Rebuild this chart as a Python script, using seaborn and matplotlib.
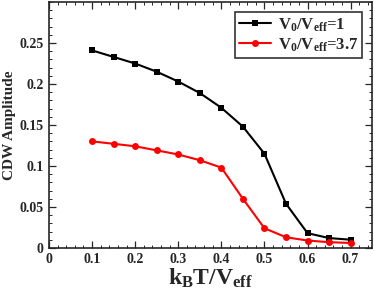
import matplotlib
matplotlib.use("Agg")
import matplotlib.pyplot as plt
import seaborn as sns
import numpy as np
import pandas as pd
from matplotlib.ticker import MultipleLocator

sns.set_style("ticks")
plt.rcParams['font.family'] = ['Liberation Serif', 'DejaVu Serif']
plt.rcParams['font.weight'] = 'bold'
plt.rcParams['mathtext.fontset'] = 'custom'
plt.rcParams['mathtext.rm'] = 'Liberation Serif:bold'
plt.rcParams['mathtext.bf'] = 'Liberation Serif:bold'

# data
temperature = [0.1, 0.15, 0.2, 0.25, 0.3, 0.35, 0.4, 0.45, 0.5, 0.55, 0.6, 0.65, 0.7]
amp_v1 = [0.241, 0.233, 0.225, 0.215, 0.203, 0.189, 0.171, 0.148, 0.115, 0.054, 0.018, 0.012, 0.010]
amp_v37 = [0.130, 0.127, 0.124, 0.119, 0.114, 0.107, 0.098, 0.060, 0.024, 0.013, 0.009, 0.007, 0.006]

label_v1 = r'$\mathrm{V_0/V_{eff}}$=1'
label_v37 = r'$\mathrm{V_0/V_{eff}}$=3.7'

df = pd.DataFrame({
    'T': temperature * 2,
    'amp': amp_v1 + amp_v37,
    'series': [label_v1] * len(amp_v1) + [label_v37] * len(amp_v37),
})

fig = plt.figure(figsize=(3.74, 2.92), dpi=100)
ax = fig.add_axes([0.131, 0.151, 0.864, 0.842])

sns.lineplot(data=df, x='T', y='amp', hue='series', style='series',
             palette={label_v1: 'black', label_v37: 'red'},
             markers={label_v1: 's', label_v37: 'o'}, dashes=False,
             markersize=5, markeredgewidth=0, linewidth=1.5, ax=ax)

ax.set_xlim(0, 0.75)
ax.set_ylim(0, 0.3)
ax.xaxis.set_minor_locator(MultipleLocator(0.02))
ax.yaxis.set_minor_locator(MultipleLocator(0.01))
ax.set_xticks([0, 0.1, 0.2, 0.3, 0.4, 0.5, 0.6, 0.7])
ax.set_xticklabels(['0', '0.1', '0.2', '0.3', '0.4', '0.5', '0.6', '0.7'])
ax.set_yticks([0, 0.05, 0.1, 0.15, 0.2, 0.25])
ax.set_yticklabels(['0', '0.05', '0.1', '0.15', '0.2', '0.25'])
ax.tick_params(which='both', direction='in', top=True, right=True, labelsize=10)
ax.tick_params(which='major', length=5, width=0.9, pad=4)
ax.tick_params(which='minor', length=2.5, width=0.7)
for s in ax.spines.values():
    s.set_linewidth(1.2)

ax.set_xlabel(r'$\mathrm{k_BT/V_{eff}}$', fontsize=17, labelpad=0)
ax.set_ylabel('CDW Amplitude', fontsize=11, fontweight='bold', labelpad=2)

leg = ax.legend(loc='upper right', fontsize=12, frameon=True, fancybox=False,
                handlelength=1.9, handletextpad=0.4, borderpad=0.25,
                labelspacing=0.15, borderaxespad=0.6, title=None)
leg.get_frame().set_edgecolor('black')
leg.get_frame().set_linewidth(1.2)

fig.savefig('out.png', dpi=100)
plt.close(fig)
